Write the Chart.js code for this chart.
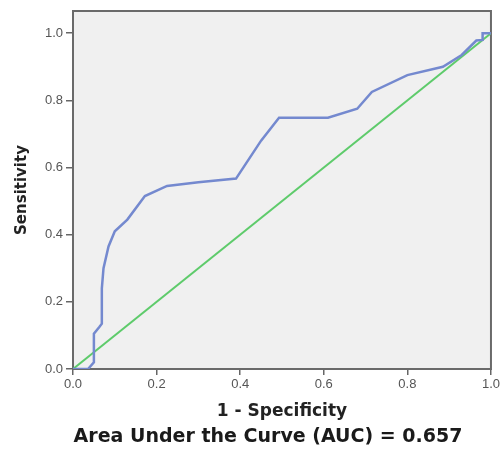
<!DOCTYPE html>
<html>
<head>
<meta charset="utf-8">
<script src="https://cdn.jsdelivr.net/npm/chart.js@4/dist/chart.umd.min.js"></script>
<style>
  html, body { margin: 0; padding: 0; background: #fff; }
</style>
</head>
<body>
<canvas id="rocChart" width="502" height="450"></canvas>
<script>
// ROC curve (1 - specificity, sensitivity)
var fprValues = [0, 0.036, 0.05, 0.05, 0.063, 0.069, 0.069, 0.073, 0.085, 0.1, 0.13, 0.172, 0.225, 0.3, 0.39, 0.45, 0.493, 0.61, 0.68, 0.715, 0.8, 0.885, 0.93, 0.965, 0.98, 0.98, 1.0];
var tprValues = [0, 0, 0.02, 0.105, 0.125, 0.135, 0.24, 0.3, 0.365, 0.41, 0.445, 0.515, 0.545, 0.556, 0.567, 0.68, 0.748, 0.748, 0.775, 0.825, 0.875, 0.9, 0.935, 0.978, 0.98, 1.0, 1.0];
// reference line
var refX = [0, 1];
var refY = [0, 1];
var xTickValues = [0, 0.2, 0.4, 0.6, 0.8, 1.0];
var yTickValues = [0, 0.2, 0.4, 0.6, 0.8, 1.0];
var aucNote = 'Area Under the Curve (AUC) = 0.657';

var plotFrame = {
  id: 'plotFrame',
  beforeDraw(chart) {
    const { ctx, chartArea: a } = chart;
    ctx.save();
    ctx.fillStyle = '#f0f0f0';
    ctx.fillRect(a.left, a.top, a.right - a.left, a.bottom - a.top);
    ctx.restore();
  },
  beforeDatasetsDraw(chart) {
    const { ctx, chartArea: a } = chart;
    ctx.save();
    ctx.strokeStyle = '#6a6a6a';
    ctx.lineWidth = 2;
    ctx.strokeRect(a.left, a.top, a.right - a.left, a.bottom - a.top);
    ctx.restore();
  },
  // AUC note under the axis title (SPSS puts it a bit left of the plot centre)
  afterDraw(chart) {
    const { ctx } = chart;
    ctx.save();
    ctx.font = 'bold 19px "DejaVu Sans"';
    ctx.fillStyle = '#1a1a1a';
    ctx.textAlign = 'center';
    ctx.textBaseline = 'middle';
    ctx.fillText(aucNote, 268, 437);
    ctx.restore();
  }
};

const tickFont = { family: "'Liberation Sans', Arial, sans-serif", size: 13 };

new Chart(document.getElementById('rocChart'), {
  type: 'scatter',
  data: {
    datasets: [
      {
        label: 'ROC',
        data: fprValues.map((x, i) => ({ x: x, y: tprValues[i] })),
        showLine: true,
        borderColor: '#7489cf',
        borderWidth: 2.5,
        pointRadius: 0,
        tension: 0
      },
      {
        label: 'Reference',
        data: refX.map((x, i) => ({ x: x, y: refY[i] })),
        showLine: true,
        borderColor: '#5ecb6b',
        borderWidth: 2,
        pointRadius: 0
      }
    ]
  },
  options: {
    responsive: false,
    animation: false,
    layout: { padding: { left: 0, right: 11, top: 11, bottom: 0 } },
    plugins: {
      legend: { display: false },
      tooltip: { enabled: false }
    },
    scales: {
      x: {
        type: 'linear',
        min: 0,
        max: 1,
        afterBuildTicks: (scale) => { scale.ticks = xTickValues.map(v => ({ value: v })); },
        afterFit: (scale) => { scale.height = 81; },
        ticks: {
          color: '#555',
          font: tickFont,
          padding: 2,
          maxRotation: 0,
          callback: (v) => v.toFixed(1)
        },
        grid: { drawOnChartArea: false, tickLength: 6, color: '#666', lineWidth: 1.5 },
        border: { display: false },
        title: {
          display: true,
          text: '1 - Specificity',
          color: '#222',
          font: { family: 'DejaVu Sans', size: 17, weight: 'bold' },
          padding: { top: 0, bottom: 28 }
        }
      },
      y: {
        type: 'linear',
        min: 0,
        max: 1.066,
        afterBuildTicks: (scale) => { scale.ticks = yTickValues.map(v => ({ value: v })); },
        afterFit: (scale) => { scale.width = 73; },
        ticks: {
          color: '#555',
          font: tickFont,
          padding: 3,
          callback: (v) => v.toFixed(1)
        },
        grid: { drawOnChartArea: false, tickLength: 7, color: '#666', lineWidth: 1.5 },
        border: { display: false },
        title: {
          display: true,
          text: 'Sensitivity',
          color: '#222',
          font: { family: 'DejaVu Sans', size: 15, weight: 'bold' },
          padding: { top: 13, bottom: 0 }
        }
      }
    }
  },
  plugins: [plotFrame]
});
</script>
</body>
</html>
